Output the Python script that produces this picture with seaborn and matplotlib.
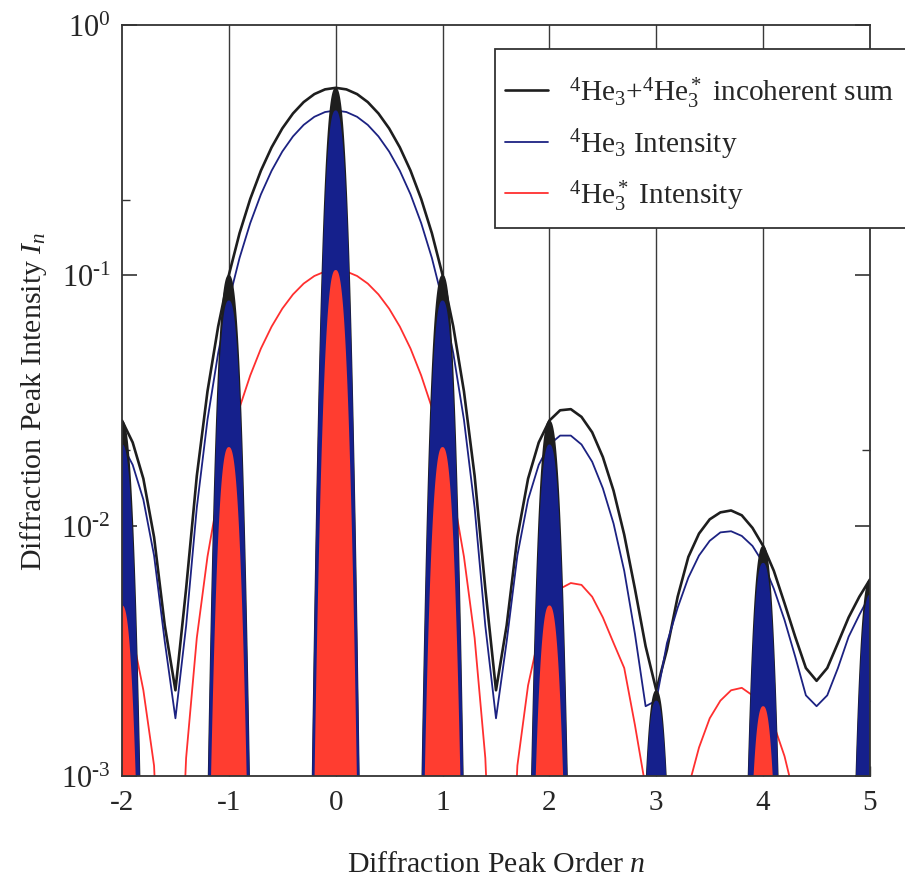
import numpy as np
import matplotlib
matplotlib.use("Agg")
import matplotlib.pyplot as plt
from matplotlib.patches import Rectangle
import seaborn as sns
from matplotlib.ticker import LogLocator, FixedLocator, NullFormatter, FuncFormatter

# Diffraction order axis (sampling positions of the envelopes)
order = np.round(np.arange(-20, 51) / 10.0, 1)

# 4He3 + 4He3* incoherent sum envelope
sum_intensity = [
    0.0263, 0.0215, 0.0154, 0.0090, 0.0040, 0.0022, 0.0056, 0.0158, 0.0344, 0.0625,
    0.1003, 0.1473, 0.2018, 0.2620, 0.3245, 0.3862, 0.4432, 0.4921, 0.5296, 0.5531,
    0.5611,
    0.5531, 0.5296, 0.4921, 0.4432, 0.3862, 0.3245, 0.2620, 0.2018, 0.1473, 0.1003,
    0.0625, 0.0344, 0.0158, 0.0056, 0.0022, 0.0040, 0.0090, 0.0154, 0.0215, 0.0263,
    0.0289, 0.0292, 0.0272, 0.0236, 0.0188, 0.0138, 0.0092, 0.0056, 0.0033, 0.0022,
    0.0032, 0.0052, 0.0075, 0.0093, 0.0106, 0.0113, 0.0115, 0.0110, 0.0098, 0.0083,
    0.0066, 0.0049, 0.0036, 0.0027, 0.0024, 0.0027, 0.0034, 0.0043, 0.0052, 0.0061,
]

# 4He3 intensity envelope
he3_intensity = [
    0.0211, 0.0175, 0.0127, 0.0076, 0.00345, 0.0017, 0.00398, 0.0118, 0.0265, 0.0489,
    0.0793, 0.1173, 0.1616, 0.2106, 0.2617, 0.3122, 0.3589, 0.3990, 0.4298, 0.4491,
    0.4557,
    0.4491, 0.4298, 0.3990, 0.3589, 0.3122, 0.2617, 0.2106, 0.1616, 0.1173, 0.0793,
    0.0489, 0.0265, 0.0118, 0.00398, 0.0017, 0.00345, 0.0076, 0.0127, 0.0175, 0.0211,
    0.0229, 0.0229, 0.0211, 0.0180, 0.0141, 0.0102, 0.0066, 0.0037, 0.0019, 0.0020,
    0.0034, 0.0047, 0.0062, 0.0076, 0.0087, 0.0094, 0.0095, 0.0091, 0.0083, 0.0071,
    0.0056, 0.0042, 0.0030, 0.0021, 0.0019, 0.0021, 0.0027, 0.0036, 0.0044, 0.0053,
]

# 4He3* intensity envelope
he3_star_intensity = [
    0.0048, 0.0036, 0.0022, 0.0011, 0.00012, 0.00012, 0.00118, 0.00356, 0.00752, 0.0132,
    0.0206, 0.0296, 0.0398, 0.0510, 0.0624, 0.0736, 0.0839, 0.0927, 0.0994, 0.1036,
    0.1050,
    0.1036, 0.0994, 0.0927, 0.0839, 0.0736, 0.0624, 0.0510, 0.0398, 0.0296, 0.0206,
    0.0132, 0.00752, 0.00356, 0.00118, 0.00012, 0.00012, 0.0011, 0.0023, 0.0036, 0.0048,
    0.0056, 0.0059, 0.0058, 0.0052, 0.0043, 0.0034, 0.0027, 0.0016, 0.0009, 0.0003,
    0.00005, 0.0003, 0.0009, 0.0013, 0.0017, 0.0020, 0.0022, 0.00225, 0.0021, 0.0019,
    0.0016, 0.0012, 0.0008, 0.0004, 0.00015, 0.00002, 0.00002, 0.00013, 0.00033, 0.00058,
]

peak_orders = [-2, -1, 0, 1, 2, 3, 4, 5]
x_tick_labels = ["-2", "-1", "0", "1", "2", "3", "4", "5"]

legend_labels = [
    r"$^4$He$_3$+$^4$He$_3^*$ incoherent sum",
    r"$^4$He$_3$ Intensity",
    r"$^4$He$_3^*$ Intensity",
]

# styling
SUM_COLOR = "#1e1e1e"
HE3_COLOR = "#15208c"
HE3_LINE = "#1c2282"
STAR_COLOR = "#ff3d30"
STAR_LINE = "#ff2f2f"
PEAK_WIDTH = 0.107     # half-width scale of each diffraction peak (orders)
PEAK_POWER = 2.5       # flatness of the peak profile

sns.set_theme(style="ticks")
plt.rcParams.update({
    "font.family": ["Liberation Serif", "DejaVu Serif"],
    "mathtext.fontset": "custom",
    "mathtext.rm": "Liberation Serif",
    "mathtext.it": "Liberation Serif:italic",
    "mathtext.bf": "Liberation Serif:bold",
    "axes.unicode_minus": False,
    "axes.edgecolor": "#333333",
    "axes.linewidth": 1.3,
})

fig = plt.figure(figsize=(9.05, 8.79), dpi=100)
ax = fig.add_axes([122 / 905, 1 - 777 / 879, 748 / 905, 751 / 879])
ax.set_yscale("log")

# vertical guides at each diffraction order
for n in peak_orders[1:-1]:
    ax.axvline(n, color="#3a3a3a", lw=1.0, zorder=1)

# envelopes
sns.lineplot(x=order, y=sum_intensity, color=SUM_COLOR, lw=1.9, ax=ax,
             estimator=None, label=legend_labels[0], zorder=2)
sns.lineplot(x=order, y=he3_intensity, color=HE3_LINE, lw=1.3, ax=ax,
             estimator=None, label=legend_labels[1], zorder=2)
sns.lineplot(x=order, y=he3_star_intensity, color=STAR_LINE, lw=1.3, ax=ax,
             estimator=None, label=legend_labels[2], zorder=2)

# diffraction peaks, each reaching its envelope value at integer order
dx = np.linspace(-0.45, 0.45, 361)
shape = np.exp(-(np.abs(dx) / PEAK_WIDTH) ** PEAK_POWER)
order_list = list(order)
for n in peak_orders:
    i = order_list.index(float(n))
    for height, color, z in (
        (sum_intensity[i], SUM_COLOR, 3),
        (he3_intensity[i], HE3_COLOR, 4),
        (he3_star_intensity[i], STAR_COLOR, 5),
    ):
        ax.fill_between(n + dx, height * shape, 1e-6, color=color, lw=0, zorder=z)

ax.set_xlim(-2, 5)
ax.set_ylim(1e-3, 1)
ax.autoscale(False)

ax.xaxis.set_major_locator(FixedLocator(peak_orders))
ax.set_xticklabels(x_tick_labels)
ax.yaxis.set_major_locator(LogLocator(base=10, numticks=10))
ax.yaxis.set_major_formatter(FuncFormatter(
    lambda v, pos: r"$10^{\text{%d}}$" % int(round(np.log10(v)))))
ax.yaxis.set_minor_locator(LogLocator(base=10, subs=[2.0], numticks=10))
ax.yaxis.set_minor_formatter(NullFormatter())

ax.tick_params(axis="y", which="major", direction="in", left=True, right=True,
               length=11, width=1.2, labelsize=22, pad=8, color="#333333")
ax.tick_params(axis="y", which="minor", direction="in", left=True, right=True,
               length=6, width=1.0, color="#333333")
ax.tick_params(axis="x", which="major", direction="in", bottom=True, top=False,
               length=7, width=1.0, labelsize=21, pad=9, color="#333333")
ax.tick_params(axis="x", which="minor", bottom=False, top=False)

for s in ax.spines.values():
    s.set_visible(True)
    s.set_zorder(6)

ax.set_xlabel(r"Diffraction Peak Order $n$", fontsize=21.5, labelpad=26, color="#222222")
ax.set_ylabel(r"Diffraction Peak Intensity $I_n$", fontsize=21.5, labelpad=9, color="#222222")

# legend box running off the right edge of the figure
frame = Rectangle((495 / 905, 1 - 229 / 879), 0.5, (229 - 50) / 879,
                  transform=fig.transFigure, facecolor="white", edgecolor="#333333",
                  lw=1.3, zorder=9, clip_on=False)
ax.add_patch(frame)

leg = ax.legend(loc="upper left", bbox_to_anchor=(496 / 905, 1 - 66 / 879),
                bbox_transform=fig.transFigure, borderaxespad=0, frameon=False,
                fontsize=21.2, handlelength=1.45, handletextpad=0.72,
                borderpad=0.3, labelspacing=0.57)
leg.set_zorder(10)

fig.savefig("out.png", dpi=100, facecolor="white")
